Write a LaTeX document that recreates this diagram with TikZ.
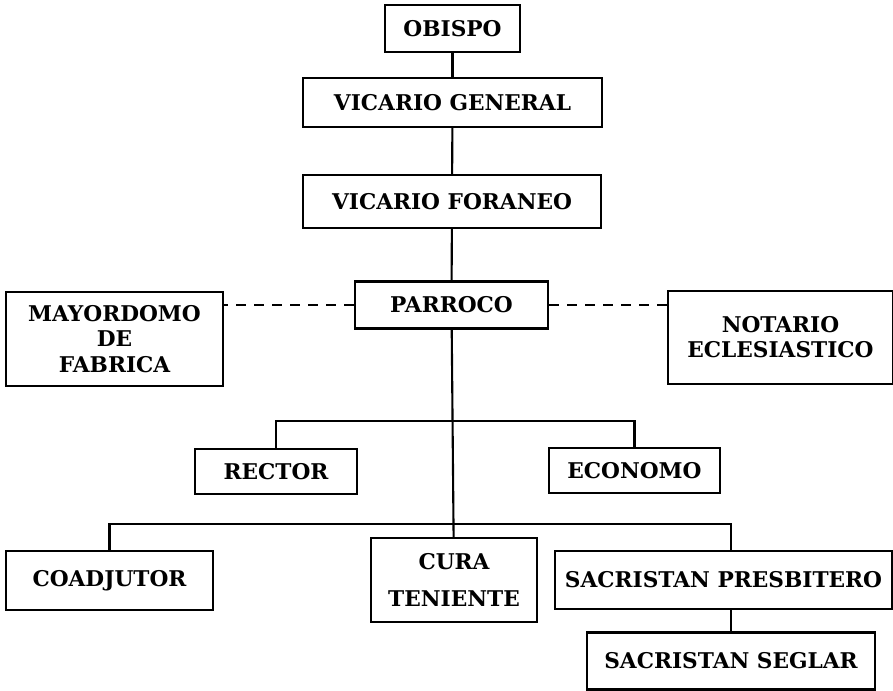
\documentclass[tikz,border=0pt]{standalone}
\usepackage{tikz}
\usepackage{xcolor}
\usepackage{fontspec}
\setmainfont{DejaVu Serif}
\usetikzlibrary{positioning, calc}
\tikzstyle{office} = [rectangle, draw, line width=1.8pt, align=center, inner sep=0pt, font=\fontsize{18.5}{21.5}\selectfont\bfseries]
\tikzstyle{link} = [line width=1.8pt]
\tikzstyle{dashlink} = [line width=1.8pt, dash pattern=on 3mm off 2.4mm]

\begin{document}
\begin{tikzpicture}[x=0.3mm, y=-0.3mm]
    \useasboundingbox (0,0) rectangle (893,691);

    % Upper chain
    \node[office, minimum width=40.5mm, minimum height=14.1mm] (obispo) at (452.5, 28.5) {OBISPO};
    \node[office, minimum width=89.7mm, minimum height=14.7mm] (vgeneral) at (452.5, 102.5) {VICARIO GENERAL};
    \node[office, minimum width=89.4mm, minimum height=15.9mm] (vforaneo) at (452, 201.5) {VICARIO FORANEO};
    \node[office, minimum width=57.9mm, minimum height=14.1mm] (parroco) at (451.5, 305) {PARROCO};

    % Side offices
    \node[office, minimum width=65.1mm, minimum height=28.2mm] (mayordomo) at (114.5, 339) {MAYORDOMO\\DE\\FABRICA};
    \node[office, minimum width=67.5mm, minimum height=27.9mm] (notario) at (780.5, 337.5) {NOTARIO\\ECLESIASTICO};

    % First branch
    \node[office, minimum width=48.6mm, minimum height=13.5mm] (rector) at (276, 471.5) {RECTOR};
    \node[office, minimum width=51.3mm, minimum height=13.5mm] (economo) at (634.5, 470.5) {ECONOMO};

    % Second branch
    \node[office, minimum width=62.1mm, minimum height=17.7mm] (coadjutor) at (109.5, 580.5) {COADJUTOR};
    \node[office, minimum width=49.8mm, minimum height=25.2mm] (cura) at (454, 580) {CURA\\[3.5mm]TENIENTE};
    \node[office, minimum width=101.1mm, minimum height=17.4mm] (presbitero) at (723.5, 580) {SACRISTAN PRESBITERO};
    \node[office, minimum width=86.4mm, minimum height=17.1mm] (seglar) at (731, 661) {SACRISTAN SEGLAR};

    \coordinate (branch1) at (454, 421);
    \coordinate (branch2) at (454, 524);

    \draw[link] (obispo) -- (vgeneral);
    \draw[link] (vgeneral) -- (vforaneo);
    \draw[link] (vforaneo) -- (parroco);
    \draw[link] (parroco) -- (cura);
    \draw[dashlink] (parroco.west) -- (parroco.west -| mayordomo.east);
    \draw[dashlink] (parroco.east) -- (parroco.east -| notario.west);
    \draw[link] (rector.north) |- (branch1) -| (economo.north);
    \draw[link] (coadjutor.north) |- (branch2) -| (presbitero.north -| seglar.north);
    \draw[link] (presbitero.south -| seglar.north) -- (seglar.north);

\end{tikzpicture}
\end{document}
